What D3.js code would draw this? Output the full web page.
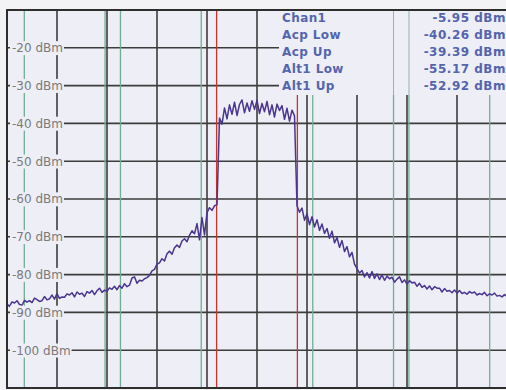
<!DOCTYPE html>
<html>
<head>
<meta charset="utf-8">
<script src="https://cdn.jsdelivr.net/npm/d3@7"></script>
<style>
  html, body { margin: 0; padding: 0; background: #f3f3f5; }
  svg { display: block; }
</style>
</head>
<body>
<svg id="chart" width="506" height="390"></svg>
<script>
// Span settings (MHz) and trace levels (dBm), one level per sweep point
const spanStart = -13;
const spanStop = 13;
const traceLevels = [
  -87.8, -88.4, -87.2, -87.5, -86.9, -87.9, -88.1, -86.8, -87.3, -86.9,
  -87.4, -86.2, -86.6, -87.1, -86.9, -85.8, -86.7, -86.4, -85.4, -86.5,
  -85.0, -86.3, -85.9, -86.0, -85.1, -85.4, -84.8, -85.9, -84.6, -85.2,
  -84.9, -85.8, -84.5, -84.9, -84.2, -85.3, -84.3, -83.6, -84.7, -84.1,
  -84.4, -83.5, -83.9, -83.1, -84.0, -82.9, -83.6, -82.4, -83.2, -82.8,
  -80.9, -80.6, -82.3, -81.5, -81.7, -81.1, -80.8, -80.2, -79.0, -78.6,
  -77.2, -76.9, -75.8, -76.4, -74.5, -73.8, -74.6, -72.9, -72.2, -72.8,
  -71.1, -70.5, -71.3, -69.6, -68.4, -69.2, -66.5, -70.8, -64.9, -69.5,
  -63.6, -62.3, -63.0, -61.8, -61.5, -38.6, -40.2, -35.9, -38.8, -35.1,
  -37.6, -34.4, -37.9, -35.0, -33.8, -37.2, -34.6, -36.8, -34.0, -36.3,
  -33.9, -37.4, -34.7, -36.9, -34.2, -37.7, -35.1, -38.3, -34.9, -36.6,
  -35.3, -38.9, -36.0, -39.4, -36.5, -38.0, -61.8, -63.5, -62.4, -65.6,
  -63.9, -66.8, -64.7, -67.4, -65.5, -68.3, -66.6, -69.1, -67.8, -70.4,
  -68.5, -71.6, -70.2, -72.8, -71.0, -73.9, -72.6, -75.3, -74.1, -77.2,
  -78.4, -79.6, -78.9, -80.6, -79.5, -80.9, -79.2, -81.0, -79.8, -81.3,
  -80.1, -81.5, -80.4, -81.1, -80.7, -82.0, -81.2, -80.6, -82.1, -81.4,
  -82.5, -81.6, -82.2, -82.0, -83.1, -82.3, -83.4, -82.9, -83.8, -83.0,
  -84.0, -83.2, -83.6, -83.6, -84.6, -83.7, -84.4, -84.2, -84.8, -84.1,
  -84.9, -84.2, -85.0, -84.7, -85.2, -84.5, -84.9, -84.6, -85.4, -85.0,
  -85.3, -84.7, -85.6, -85.1, -85.4, -84.9, -85.7, -85.5, -85.9, -85.3,
  -85.8
];

// Y ticks (dBm) with grid divisions
const yTicks = [-20, -30, -40, -50, -60, -70, -80, -90, -100];
const yDomain = [-110, -10];

// Channel layout (MHz): centres relative to the carrier, common bandwidth
const channelCenters = [-10, -5, 0, 5, 10];
const channelBandwidth = 4.2;

// Channel power table
const tableLabels = ["Chan1", "Acp Low", "Acp Up", "Alt1 Low", "Alt1 Up"];
const tableValues = [-5.95, -40.26, -39.39, -55.17, -52.92];

const svg = d3.select("#chart");
const plot = { left: 7, top: 10, right: 507, bottom: 388 };
const plotBg = "#eeeef6";

const x = d3.scaleLinear().domain([spanStart, spanStop]).range([plot.left, plot.right]);
const y = d3.scaleLinear().domain(yDomain).range([plot.bottom, plot.top]);

const step = (spanStop - spanStart) / (traceLevels.length - 1);
const trace = traceLevels.map((v, i) => ({ f: spanStart + i * step, v }));

// Plot background
svg.append("rect")
  .attr("x", plot.left).attr("y", plot.top)
  .attr("width", plot.right - plot.left).attr("height", plot.bottom - plot.top)
  .attr("fill", plotBg);

// Grid: 10 divisions each way
const xGrid = d3.range(1, 10).map(k => spanStart + k * (spanStop - spanStart) / 10);
svg.append("g").selectAll("line").data(xGrid).join("line")
  .attr("x1", d => x(d)).attr("x2", d => x(d))
  .attr("y1", plot.top).attr("y2", plot.bottom)
  .attr("stroke", "#3c3c3c").attr("stroke-width", 1.6);
svg.append("g").selectAll("line").data(yTicks).join("line")
  .attr("x1", plot.left).attr("x2", plot.right)
  .attr("y1", d => y(d)).attr("y2", d => y(d))
  .attr("stroke", "#3c3c3c").attr("stroke-width", 1.6);

// Channel edges: carrier in red, adjacent / alternate channels in green
const edges = [];
channelCenters.forEach(c => {
  const main = c === 0;
  edges.push({ f: c - channelBandwidth / 2, main });
  edges.push({ f: c + channelBandwidth / 2, main });
});
svg.append("g").selectAll("line").data(edges).join("line")
  .attr("x1", d => x(d.f)).attr("x2", d => x(d.f))
  .attr("y1", plot.top).attr("y2", plot.bottom)
  .attr("stroke", d => d.main ? "#c8342c" : "#6fae94")
  .attr("stroke-width", 1.3);

// Trace
const line = d3.line().x(d => x(d.f)).y(d => y(d.v));
svg.append("path").datum(trace)
  .attr("d", line)
  .attr("fill", "none")
  .attr("stroke", "#4a358f")
  .attr("stroke-width", 1.5)
  .attr("stroke-linejoin", "round");

// Y labels inside the plot, on a background patch
const labels = svg.append("g");
yTicks.forEach(t => {
  const g = labels.append("g");
  const txt = g.append("text")
    .attr("x", 12).attr("y", y(t))
    .attr("dy", "0.36em")
    .attr("font-family", "DejaVu Sans, sans-serif")
    .attr("font-size", 12)
    .attr("fill", "#7a7a7a")
    .text(t + " dBm");
  const bb = txt.node().getBBox();
  g.insert("rect", "text")
    .attr("x", bb.x - 2).attr("y", bb.y)
    .attr("width", bb.width + 3).attr("height", bb.height)
    .attr("fill", plotBg);
});

// Channel power table
const table = svg.append("g");
table.append("rect")
  .attr("x", 279).attr("y", plot.top + 1)
  .attr("width", 230).attr("height", 84)
  .attr("fill", plotBg);
[393.5, 409].forEach(px => {
  table.append("line")
    .attr("x1", px).attr("x2", px)
    .attr("y1", plot.top + 1).attr("y2", plot.top + 85)
    .attr("stroke", "#8fb8a6").attr("stroke-width", 1);
});
const fmtLevel = v => v.toFixed(2) + " dBm";
tableLabels.forEach((lab, i) => {
  const cy = 18 + i * 17;
  table.append("text")
    .attr("x", 282).attr("y", cy).attr("dy", "0.36em")
    .attr("font-family", "DejaVu Sans, sans-serif")
    .attr("font-weight", "bold").attr("font-size", 12)
    .attr("letter-spacing", 0.4)
    .attr("fill", "#5465ad")
    .text(lab);
  table.append("text")
    .attr("x", 506).attr("y", cy).attr("dy", "0.36em")
    .attr("text-anchor", "end")
    .attr("font-family", "DejaVu Sans, sans-serif")
    .attr("font-weight", "bold").attr("font-size", 12)
    .attr("letter-spacing", 0.5)
    .attr("fill", "#5465ad")
    .text(fmtLevel(tableValues[i]));
});

// Frame
svg.append("rect")
  .attr("x", plot.left).attr("y", plot.top)
  .attr("width", plot.right - plot.left).attr("height", plot.bottom - plot.top)
  .attr("fill", "none")
  .attr("stroke", "#2e2e2e").attr("stroke-width", 2);
</script>
</body>
</html>
